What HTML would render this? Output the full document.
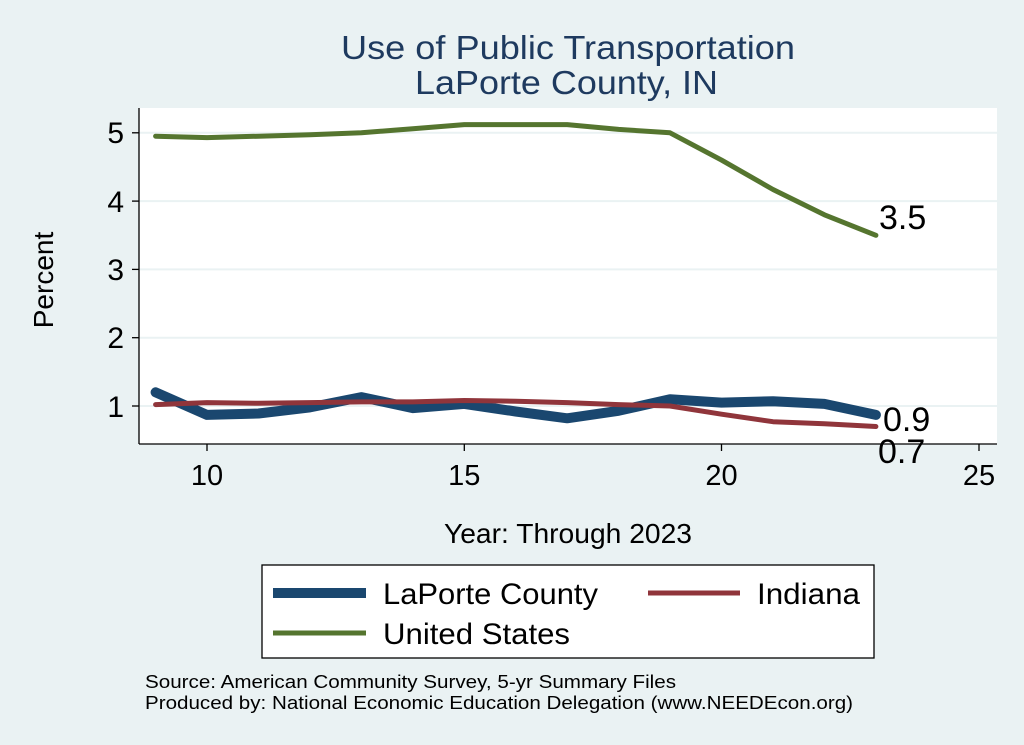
<!DOCTYPE html>
<html><head><style>body{margin:0;background:#eaf2f3}svg{display:block}</style></head><body>
<svg width="1024" height="745" xmlns="http://www.w3.org/2000/svg" font-family="Liberation Sans, Arial, sans-serif">
<rect width="1024" height="745" fill="#eaf2f3"/>
<rect x="139" y="108" width="858" height="336" fill="#fff"/>
<g stroke="#eaf2f3" stroke-width="2">
<line x1="139" y1="132.8" x2="997" y2="132.8"/><line x1="139" y1="201.1" x2="997" y2="201.1"/><line x1="139" y1="269.4" x2="997" y2="269.4"/><line x1="139" y1="337.7" x2="997" y2="337.7"/><line x1="139" y1="406" x2="997" y2="406"/>
</g>
<g stroke="#000" stroke-width="1.3">
<line x1="139" y1="108" x2="139" y2="444"/><line x1="139" y1="444" x2="997" y2="444"/>
<line x1="132" y1="132.8" x2="139" y2="132.8"/><line x1="132" y1="201.1" x2="139" y2="201.1"/><line x1="132" y1="269.4" x2="139" y2="269.4"/><line x1="132" y1="337.7" x2="139" y2="337.7"/><line x1="132" y1="406" x2="139" y2="406"/>
<line x1="207" y1="444" x2="207" y2="451"/><line x1="464.3" y1="444" x2="464.3" y2="451"/><line x1="721.5" y1="444" x2="721.5" y2="451"/><line x1="979" y1="444" x2="979" y2="451"/>
</g>
<g font-size="30" text-anchor="end" fill="#000">
<text x="124" y="143">5</text><text x="124" y="212">4</text><text x="124" y="280">3</text><text x="124" y="348">2</text><text x="124" y="417">1</text>
</g>
<g font-size="29" text-anchor="middle">
<text x="207" y="485">10</text><text x="464.3" y="485">15</text><text x="721.5" y="485">20</text><text x="979" y="485">25</text>
</g>
<text x="444" y="543" font-size="28" textLength="248" lengthAdjust="spacingAndGlyphs">Year: Through 2023</text>
<text transform="translate(53,280) rotate(-90)" font-size="28" text-anchor="middle">Percent</text>
<text x="341" y="59" font-size="33" textLength="454" lengthAdjust="spacingAndGlyphs" fill="#1e3a5f">Use of Public Transportation</text>
<text x="415" y="94" font-size="33" textLength="303" lengthAdjust="spacingAndGlyphs" fill="#1e3a5f">LaPorte County, IN</text>
<g fill="none" stroke-linejoin="round" stroke-linecap="round">
<polyline stroke="#55752f" stroke-width="5" points="155.6,136.2 207,137.6 258.5,136.2 309.9,134.8 361.4,132.8 412.8,128.7 464.3,124.6 515.7,124.6 567.2,124.6 618.6,129.4 670,132.8 721.5,160.1 773,189.5 824.4,214.8 875.9,235.3"/>
<polyline stroke="#1a476f" stroke-width="10" points="155.6,392.3 207,414.9 258.5,413.5 309.9,407.4 361.4,397.1 412.8,408.1 464.3,403.9 515.7,411.5 567.2,418.3 618.6,410.8 670,399.2 721.5,402.6 773,401.2 824.4,403.9 875.9,414.9"/>
<polyline stroke="#90353b" stroke-width="5" points="155.6,404.6 207,402.6 258.5,403.3 309.9,402.6 361.4,401.9 412.8,401.9 464.3,400.5 515.7,401.2 567.2,402.6 618.6,404.6 670,406 721.5,414.2 773,421.7 824.4,423.8 875.9,426.5"/>
</g>
<g font-size="34">
<text x="879" y="229">3.5</text><text x="883" y="431">0.9</text><text x="878" y="463">0.7</text>
</g>
<rect x="262" y="565" width="612" height="93" fill="#fff" stroke="#000" stroke-width="1.3"/>
<line x1="273" y1="593" x2="366" y2="593" stroke="#1a476f" stroke-width="10"/>
<text x="383" y="604" font-size="30" textLength="215" lengthAdjust="spacingAndGlyphs">LaPorte County</text>
<line x1="648" y1="593" x2="740" y2="593" stroke="#90353b" stroke-width="5"/>
<text x="757" y="604" font-size="30" textLength="103" lengthAdjust="spacingAndGlyphs">Indiana</text>
<line x1="273" y1="633" x2="366" y2="633" stroke="#55752f" stroke-width="5"/>
<text x="383" y="644" font-size="30" textLength="187" lengthAdjust="spacingAndGlyphs">United States</text>
<text x="145" y="688" font-size="18" textLength="531" lengthAdjust="spacingAndGlyphs">Source: American Community Survey, 5-yr Summary Files</text>
<text x="145" y="709" font-size="18" textLength="708" lengthAdjust="spacingAndGlyphs">Produced by: National Economic Education Delegation (www.NEEDEcon.org)</text>
</svg>
</body></html>
